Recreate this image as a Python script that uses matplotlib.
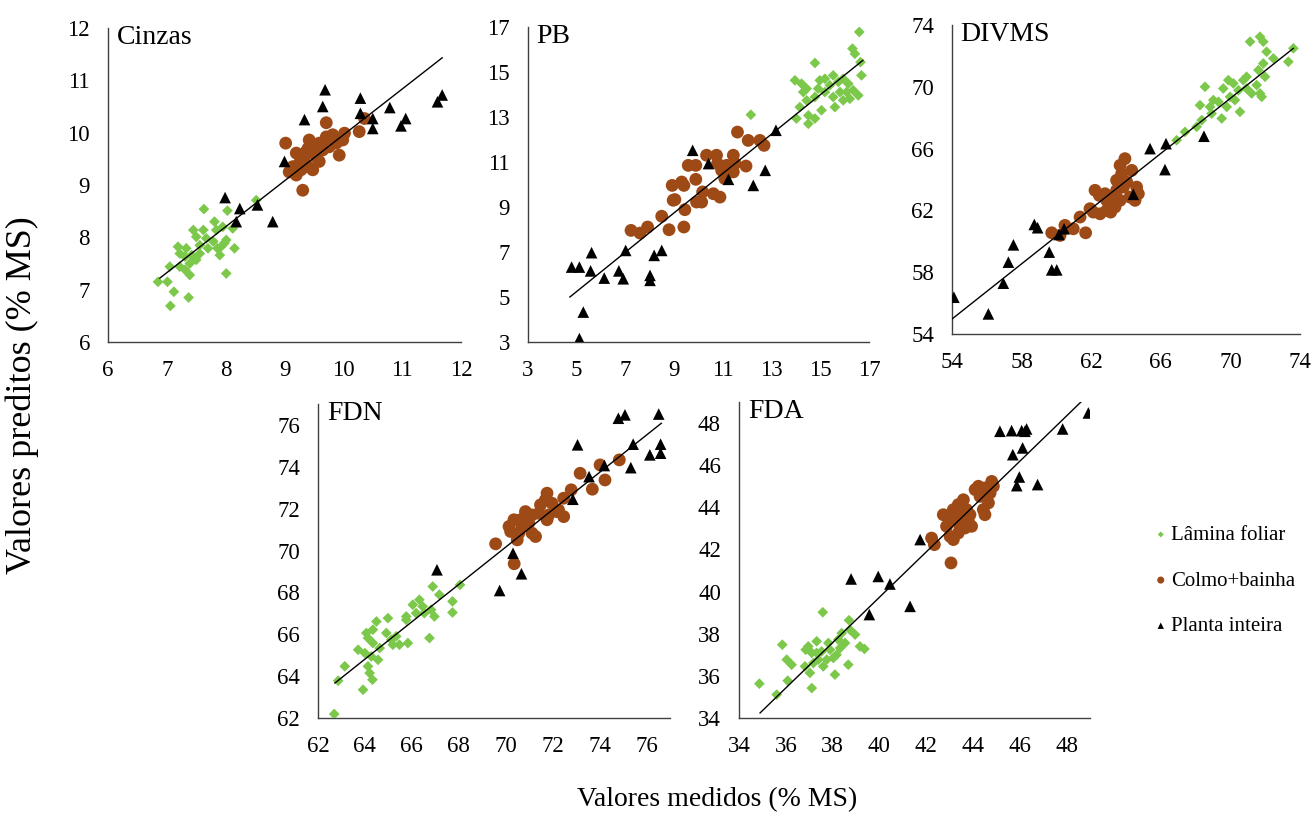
import matplotlib
matplotlib.use("Agg")
import matplotlib.pyplot as plt

plt.rcParams['font.family'] = ['Liberation Serif', 'DejaVu Serif']

# Cinzas
cin_folha_x = [8.52,7.63,8.03,7.81,7.45,7.62,7.84,7.95,8.12,7.50,7.67,7.79,8.01,8.15,7.98,7.19,7.33,7.22,7.31,7.42,
               7.56,7.70,7.86,7.90,7.39,7.50,7.22,7.31,7.39,7.05,8.01,6.85,7.01,7.12,7.37,7.06,7.92,7.56]
cin_folha_y = [8.71,8.54,8.51,8.30,8.14,8.14,8.14,8.20,8.17,8.01,7.98,7.92,7.95,7.79,7.89,7.82,7.79,7.69,7.63,7.66,
               7.69,7.79,7.79,7.66,7.50,7.57,7.44,7.38,7.28,7.44,7.31,7.15,7.15,6.96,6.85,6.69,7.82,7.85]
cin_colmo_x = [9.71,9.02,10.27,10.36,10.02,9.93,9.31,9.08,9.20,9.25,9.37,9.48,9.42,9.59,9.71,9.82,9.88,9.76,9.54,9.65,
               9.40,9.48,9.59,9.20,9.34,9.28,9.99,9.14,9.51,9.40]
cin_colmo_y = [10.19,9.80,10.02,10.27,9.99,9.57,8.90,9.25,9.19,9.41,9.64,9.73,9.86,9.80,9.92,9.96,9.80,9.73,9.54,9.67,
               9.35,9.29,9.45,9.61,9.54,9.29,9.86,9.35,9.64,9.70]
cin_planta_x = [9.69,9.65,10.29,10.29,10.50,10.50,10.79,11.06,10.98,11.60,11.68,9.34,9.00,7.99,8.24,8.18,8.54,8.80]
cin_planta_y = [10.82,10.50,10.66,10.37,10.27,10.08,10.48,10.27,10.13,10.59,10.72,10.25,9.45,8.76,8.55,8.30,8.62,8.30]
cin_reta_x = [6.88, 11.68]
cin_reta_y = [7.22, 11.43]

# PB
pb_folha_x = [16.60,16.32,16.42,16.65,16.69,16.56,14.78,13.96,14.23,14.44,14.98,15.19,15.53,15.39,15.74,15.94,16.15,15.81,
              16.08,16.35,14.91,15.19,14.44,14.78,14.16,14.02,14.51,14.78,15.05,15.60,15.94,16.21,12.15,14.51,15.53,14.30]
pb_folha_y = [16.78,16.04,15.81,15.44,14.85,13.96,15.40,14.63,14.48,14.26,14.63,14.70,14.85,14.41,14.56,14.70,14.48,14.11,
              14.11,14.19,14.26,14.11,13.74,13.89,13.44,12.93,13.07,12.93,13.30,13.44,13.74,13.81,13.10,12.70,13.89,14.11]
pb_colmo_x = [7.23,7.60,7.91,8.49,8.79,9.40,8.96,8.92,9.31,9.40,9.44,9.58,9.89,9.89,9.92,10.17,10.13,10.33,10.61,10.88,
              10.74,10.78,10.95,11.15,11.43,11.50,11.43,11.95,11.60,12.04,12.52,12.69,9.03,11.08]
pb_colmo_y = [7.96,7.84,8.11,8.59,7.99,8.11,9.30,9.96,10.11,9.96,8.88,10.85,10.85,10.23,9.22,9.67,9.22,11.30,9.59,9.44,
              11.30,10.93,10.63,10.85,11.30,10.93,10.56,10.82,12.33,11.96,11.96,11.74,9.33,10.26]
pb_planta_x = [5.11,5.27,4.79,5.11,5.57,5.61,6.13,6.73,6.91,7.01,8.01,8.01,8.18,8.49,9.76,10.41,11.23,12.25,12.74,13.18]
pb_planta_y = [3.15,4.33,6.33,6.33,6.16,6.97,5.84,6.16,5.81,7.07,5.96,5.74,6.85,7.07,11.52,10.93,10.23,9.96,10.63,12.41]
pb_reta_x = [4.72, 16.75]
pb_reta_y = [5.00, 15.52]

# DIVMS
dv_folha_x = [66.91,67.39,68.06,68.35,68.25,68.54,68.92,69.31,69.50,69.79,69.98,70.17,70.46,70.55,70.74,70.93,71.22,70.93,
              71.51,71.70,71.80,71.99,71.89,72.08,72.47,71.13,71.70,71.89,73.62,73.33,69.59,70.26,69.88,68.83,69.02,71.61]
dv_folha_y = [66.54,67.08,67.41,67.84,68.81,70.00,68.27,69.03,67.95,68.70,69.35,70.22,69.78,68.38,70.43,69.89,69.57,70.65,
              70.11,69.57,69.35,70.65,71.51,72.27,71.84,72.92,73.24,72.92,72.49,71.62,69.89,69.14,70.43,68.70,69.14,71.08]
dv_colmo_x = [59.73,60.21,60.49,60.97,61.36,61.68,61.93,62.22,62.47,62.12,62.51,62.89,63.12,62.89,63.27,63.46,63.66,63.85,
              64.04,63.75,63.66,63.94,64.33,64.61,64.71,64.52,63.37,62.79,64.23,63.46]
dv_colmo_y = [60.55,60.38,61.03,60.81,61.57,60.55,62.11,63.30,62.97,61.89,61.78,62.00,61.89,62.65,62.97,63.30,62.65,63.51,
              63.84,64.38,64.92,65.35,64.59,63.51,63.08,62.65,62.22,63.08,62.86,63.95]
dv_planta_x = [54.11,56.09,56.95,57.24,57.53,58.73,58.92,59.59,59.73,60.02,60.15,60.44,64.42,65.38,66.30,66.24,68.48]
dv_planta_y = [56.38,55.30,57.29,58.65,59.77,61.09,60.88,59.30,58.15,58.15,60.44,60.81,63.04,66.00,66.32,64.64,66.80]
dv_reta_x = [54.0, 73.62]
dv_reta_y = [54.97, 72.49]

# FDN
fdn_folha_x = [62.69,62.86,63.14,63.92,64.32,64.20,64.13,63.71,64.00,64.27,64.56,64.06,64.34,64.49,64.13,64.34,64.63,64.91,
               64.98,65.12,65.33,65.19,65.47,65.83,65.76,66.04,66.32,66.18,66.46,66.53,66.75,66.82,66.89,66.96,67.17,67.73,
               67.73,68.05,65.76]
fdn_folha_y = [62.19,63.78,64.47,63.35,63.83,64.15,64.47,65.26,65.10,64.94,64.78,66.06,66.22,66.61,65.82,65.58,65.34,66.06,
               66.77,65.74,65.90,65.50,65.50,65.58,66.69,67.41,67.65,67.01,67.33,67.01,65.82,67.17,68.28,66.85,67.89,67.57,
               67.04,68.36,66.85]
fdn_colmo_x = [69.57,70.36,74.84,73.17,73.69,74.02,74.23,72.79,72.47,72.47,72.25,71.97,71.76,71.69,71.48,71.83,71.76,71.41,
               71.12,70.84,70.98,71.27,71.12,70.70,70.56,70.49,70.14,70.21,70.35,70.63,72.18]
fdn_colmo_y = [70.32,69.37,74.33,73.69,72.93,74.09,73.37,72.90,72.50,71.62,71.94,72.26,72.74,72.42,72.18,71.70,71.47,71.78,
               71.70,71.86,71.31,70.67,70.83,71.15,70.83,70.51,71.15,70.91,71.47,71.47,71.86]
fdn_planta_x = [67.07,69.74,70.31,70.67,72.86,73.06,73.55,74.20,74.80,75.08,75.43,75.33,76.14,76.52,76.60,76.60]
fdn_planta_y = [69.08,68.09,69.87,68.89,72.45,75.05,73.53,74.06,76.32,76.48,75.08,73.96,74.57,76.52,75.08,74.65]
fdn_reta_x = [62.72, 76.63]
fdn_reta_y = [63.67, 76.08]

# FDA
fda_folha_x = [34.87,35.61,36.08,35.85,36.04,36.25,36.85,36.96,37.11,37.03,37.11,36.82,37.32,37.39,37.53,37.60,37.75,37.58,
               37.89,38.03,38.10,38.24,38.39,38.53,38.32,38.67,38.70,38.74,38.96,39.17,39.36,37.18,37.82,38.17,37.32]
fda_folha_y = [35.63,35.11,35.77,37.48,36.77,36.53,37.24,37.40,37.09,36.14,35.42,36.45,37.64,36.77,37.16,36.45,36.77,39.02,
               37.24,36.85,36.06,37.72,38.03,37.56,37.32,36.53,38.64,38.19,37.96,37.40,37.28,36.61,37.56,37.00,37.09]
fda_colmo_x = [43.06,42.23,42.35,42.73,42.87,43.02,43.16,43.37,43.44,43.52,43.16,43.37,43.59,43.73,43.87,43.94,43.66,43.80,
               44.09,44.23,44.30,44.44,44.51,44.66,44.73,44.51,44.80,44.87,43.09,43.30]
fda_colmo_y = [41.36,42.54,42.23,43.65,43.10,42.62,42.47,42.78,43.10,43.57,43.89,44.13,44.36,43.89,43.65,43.10,43.02,43.34,
               44.84,45.00,44.52,43.89,43.65,44.21,44.68,44.92,45.23,45.00,43.41,43.65]
fda_planta_x = [38.79,39.95,40.45,39.57,41.31,41.74,45.15,45.65,46.08,46.29,46.22,45.70,46.12,45.98,45.87,46.76,47.83,48.93]
fda_planta_y = [40.60,40.72,40.36,38.91,39.30,42.47,47.61,47.64,47.64,47.72,47.61,46.50,46.82,45.44,45.03,45.08,47.72,48.48]
fda_reta_x = [34.90, 48.64]
fda_reta_y = [34.24, 49.03]

titulos = ["Cinzas", "PB", "DIVMS", "FDN", "FDA"]
limites = [(6, 12), (3, 17), (54, 74), (62, 77), (34, 49)]
ticks = [range(6, 13, 1), range(3, 18, 2), range(54, 75, 4), range(62, 77, 2), range(34, 49, 2)]
grupos = ["Lâmina foliar", "Colmo+bainha", "Planta inteira"]

dados = [
    (cin_folha_x, cin_folha_y, cin_colmo_x, cin_colmo_y, cin_planta_x, cin_planta_y, cin_reta_x, cin_reta_y),
    (pb_folha_x, pb_folha_y, pb_colmo_x, pb_colmo_y, pb_planta_x, pb_planta_y, pb_reta_x, pb_reta_y),
    (dv_folha_x, dv_folha_y, dv_colmo_x, dv_colmo_y, dv_planta_x, dv_planta_y, dv_reta_x, dv_reta_y),
    (fdn_folha_x, fdn_folha_y, fdn_colmo_x, fdn_colmo_y, fdn_planta_x, fdn_planta_y, fdn_reta_x, fdn_reta_y),
    (fda_folha_x, fda_folha_y, fda_colmo_x, fda_colmo_y, fda_planta_x, fda_planta_y, fda_reta_x, fda_reta_y),
]

# axes positions in pixels (left, top, right, bottom) for a 1316x814 figure
caixas = [(108, 28, 461, 342), (528, 27, 869, 342), (952, 25, 1300, 334),
          (318, 404, 670, 718), (739, 402, 1090, 718)]

verde = '#7CC84B'
marrom = '#9E4A16'

W, H = 1316, 814
fig = plt.figure(figsize=(W / 100, H / 100), dpi=100)

for i in range(5):
    l, t, r, b = caixas[i]
    ax = fig.add_axes([l / W, 1 - b / H, (r - l) / W, (b - t) / H])
    fx, fy, cx, cy, px, py, rx, ry = dados[i]
    h1 = ax.scatter(fx, fy, marker='D', s=30, color=verde, edgecolors='none', zorder=3)
    h2 = ax.scatter(cx, cy, marker='o', s=85, color=marrom, edgecolors='none', zorder=3)
    h3 = ax.scatter(px, py, marker='^', s=70, color='black', edgecolors='none', zorder=4)
    ax.plot(rx, ry, color='black', lw=1.0, zorder=5)
    ax.set_xlim(limites[i])
    ax.set_ylim(limites[i])
    ax.set_xticks(list(ticks[i]))
    ax.set_yticks(list(ticks[i]))
    ax.tick_params(length=0, labelsize=16.5, pad=13)
    for s in ['top', 'right']:
        ax.spines[s].set_visible(False)
    for s in ['left', 'bottom']:
        ax.spines[s].set_color('#404040')
        ax.spines[s].set_linewidth(1.0)
    ax.text(0.025, 1.01, titulos[i], transform=ax.transAxes, fontsize=20, va='top', ha='left')
    ax.patch.set_alpha(0)

fig.legend([h1, h2, h3], grupos, loc='upper left', bbox_to_anchor=(1142 / W, 1 - 517 / H),
           frameon=False, fontsize=15, markerscale=0.55, handletextpad=0.0, labelspacing=1.25,
           handlelength=1.0, borderaxespad=0)

fig.text(717 / W, 1 - 800 / H, "Valores medidos (% MS)", ha='center', va='center', fontsize=20)
fig.text(22 / W, 1 - 395 / H, "Valores preditos (% MS)", ha='center', va='center', rotation=90, fontsize=26)

fig.savefig("out.png", dpi=100)
